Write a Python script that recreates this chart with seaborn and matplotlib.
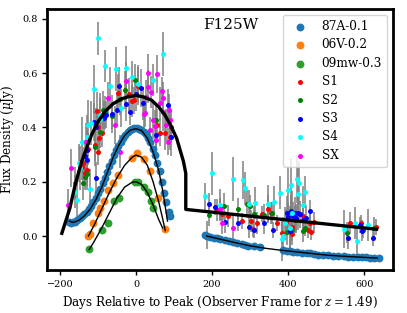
import matplotlib
matplotlib.use("Agg")
import matplotlib.pyplot as plt
import seaborn as sns
import numpy as np

# template light curves (shifted)
sn87a_days = [-175, -170, -165, -160, -154, -148, -142, -136, -130, -124, -118, -112, -106, -100,
              -94, -88, -82, -76, -70, -64, -58, -52, -46, -40, -34, -28, -22, -16, -10, -4,
              2, 8, 14, 20, 26, 32, 38, 44, 50, 56, 62, 68, 74, 80, 86, 90,
              181, 186, 195, 205, 212, 222, 234, 245, 256, 267, 278, 287, 296, 310, 326,
              388, 397, 405, 414, 423, 436, 449, 458, 467, 480, 493, 506, 519, 532, 546,
              559, 572, 583, 594, 605, 616, 627, 638]
sn87a_flux = [0.05, 0.048, 0.05, 0.053, 0.058, 0.065, 0.072, 0.08, 0.09, 0.1, 0.112, 0.125, 0.14, 0.157,
              0.175, 0.195, 0.215, 0.237, 0.258, 0.278, 0.297, 0.316, 0.333, 0.348, 0.362, 0.373, 0.382, 0.389, 0.394, 0.396,
              0.396, 0.394, 0.389, 0.383, 0.375, 0.362, 0.345, 0.322, 0.3, 0.27, 0.24, 0.2, 0.16, 0.125, 0.09, 0.075,
              0.002, 0.0, -0.003, -0.006, -0.008, -0.011, -0.015, -0.019, -0.023, -0.026, -0.03, -0.033, -0.035, -0.038, -0.041,
              -0.053, -0.055, -0.056, -0.058, -0.059, -0.061, -0.063, -0.064, -0.066, -0.068, -0.07, -0.071, -0.073, -0.074, -0.075,
              -0.076, -0.077, -0.078, -0.079, -0.079, -0.08, -0.08, -0.081]

sn06v_days = [-125, -122, -112, -100, -95, -85, -73, -60, -46, -11, 2, 20, 37, 57, 76]
sn06v_flux = [0.0, 0.008, 0.047, 0.085, 0.102, 0.13, 0.169, 0.194, 0.225, 0.286, 0.305, 0.283, 0.239, 0.139, 0.026]

sn09mw_days = [-123, -90, -73, -57, -45, -3, 5, 22, 31, 39, 46]
sn09mw_flux = [-0.049, 0.022, 0.047, 0.129, 0.141, 0.2, 0.2, 0.182, 0.163, 0.129, 0.104]

# fitted curves
fit87a_days = [-175, -165, -150, -135, -120, -105, -90, -75, -60, -45, -30, -15, 0, 15, 30, 45, 60, 70, 78, 83]
fit87a_flux = [0.055, 0.05, 0.058, 0.075, 0.1, 0.135, 0.18, 0.235, 0.29, 0.335, 0.37, 0.39, 0.395, 0.388,
               0.36, 0.31, 0.24, 0.17, 0.1, 0.055]
fit87a_late_days = [186, 220, 260, 300, 340, 380, 420, 460, 500, 540, 580, 620, 635]
fit87a_late_flux = [0.0, -0.011, -0.024, -0.036, -0.045, -0.052, -0.058, -0.064, -0.07, -0.074, -0.077, -0.08, -0.081]
fit06v_days = [-125, -110, -90, -70, -50, -30, -10, 0, 15, 30, 45, 60, 70, 77]
fit06v_flux = [0.0, 0.04, 0.1, 0.16, 0.215, 0.26, 0.29, 0.298, 0.29, 0.26, 0.2, 0.125, 0.065, 0.02]
fit09mw_days = [-123, -110, -90, -70, -50, -30, -10, 0, 15, 30, 45, 60, 70]
fit09mw_flux = [-0.05, -0.02, 0.03, 0.085, 0.14, 0.18, 0.198, 0.2, 0.19, 0.16, 0.115, 0.06, 0.03]

model_days = [-195, -174, -160, -143, -117, -100, -82, -60, -38, -20, 2, 20, 41, 60, 76, 92, 107, 125, 131, 131, 186, 633]
model_flux = [0.01, 0.102, 0.188, 0.274, 0.372, 0.42, 0.458, 0.487, 0.505, 0.513, 0.517, 0.512, 0.5, 0.475,
              0.446, 0.405, 0.36, 0.274, 0.231, 0.098, 0.09, 0.025]

# observed sources
s1_days = [-143, -139, -134, -130, -128, -125, -108, -103, -101, -99, -97, -90, -46, -18, -10, -5, 6,
           56, 63, 76, 89, 91,
           213, 225, 241, 278, 303, 309, 318, 331, 348, 355, 370, 383, 395, 410, 411, 418, 440, 452,
           458, 460, 467, 563, 591, 632]
s1_flux = [0.255, 0.268, 0.231, 0.243, 0.317, 0.32, 0.335, 0.46, 0.311, 0.403, 0.36, 0.378, 0.525, 0.522,
           0.497, 0.5, 0.553, 0.409, 0.38, 0.378, 0.366, 0.403,
           0.095, 0.08, 0.074, 0.056, 0.056, 0.025, 0.047, 0.081, 0.1, 0.086, 0.047, 0.01, 0.05, 0.007,
           0.032, 0.06, 0.075, 0.022, 0.047, 0.016, 0.05, 0.047, 0.049, 0.033]
s1_err = [0.05, 0.06, 0.05, 0.06, 0.07, 0.06, 0.06, 0.07, 0.05, 0.06, 0.06, 0.05, 0.07, 0.06, 0.06, 0.05,
          0.07, 0.06, 0.05, 0.06, 0.05, 0.06,
          0.04, 0.03, 0.04, 0.03, 0.04, 0.03, 0.04, 0.03, 0.05, 0.04, 0.03, 0.04, 0.05, 0.04, 0.03, 0.05,
          0.04, 0.03, 0.04, 0.03, 0.04, 0.04, 0.03, 0.03]

s2_days = [-139, -134, -130, -108, -95, -86, -82, -62, -42, -29, -3, 54,
           192, 232, 269, 291, 300, 311, 338, 359, 397, 410, 420, 440, 445, 556, 597, 625]
s2_flux = [0.194, 0.218, 0.23, 0.329, 0.384, 0.464, 0.455, 0.443, 0.505, 0.538, 0.575, 0.427,
           0.077, 0.11, 0.1, 0.118, 0.112, 0.081, 0.077, 0.084, 0.016, 0.022, 0.06, 0.018, 0.03, 0.013,
           0.022, 0.03]
s2_err = [0.06, 0.05, 0.06, 0.07, 0.06, 0.07, 0.06, 0.05, 0.06, 0.07, 0.06, 0.05,
          0.04, 0.05, 0.04, 0.05, 0.04, 0.03, 0.04, 0.04, 0.05, 0.04, 0.05, 0.04, 0.03, 0.04, 0.03, 0.04]

s3_days = [-134, -130, -128, -110, -106, -105, -83, -79, -64, -51, -44, -26, -16, 0, 13, 19, 54, 85, 92,
           193, 208, 234, 269, 298, 311, 338, 360, 398, 401, 405, 408, 412, 418, 422, 427, 432, 440,
           447, 458, 559, 588, 594, 623]
s3_flux = [0.295, 0.28, 0.317, 0.421, 0.212, 0.403, 0.436, 0.446, 0.448, 0.464, 0.553, 0.485, 0.458,
           0.522, 0.546, 0.489, 0.372, 0.482, 0.366,
           0.117, 0.106, 0.053, 0.049, 0.032, 0.024, 0.048, 0.022, 0.086, 0.07, 0.02, 0.092, 0.075,
           0.085, 0.068, 0.083, 0.08, 0.059, 0.065, 0.093, -0.006, 0.04, 0.02, -0.006]
s3_err = [0.06, 0.05, 0.06, 0.07, 0.06, 0.07, 0.06, 0.05, 0.07, 0.06, 0.07, 0.06, 0.05, 0.06, 0.07,
          0.06, 0.05, 0.06, 0.07,
          0.04, 0.03, 0.04, 0.03, 0.04, 0.03, 0.04, 0.03, 0.06, 0.05, 0.07, 0.06, 0.05, 0.06, 0.05,
          0.06, 0.05, 0.04, 0.05, 0.04, 0.04, 0.03, 0.04, 0.03]

s4_days = [-160, -156, -150, -147, -143, -128, -125, -121, -119, -110, -99, -95, -94, -82, -67, -53,
           -39, -27, -11, 5, 44, 72,
           182, 199, 221, 256, 282, 287, 298, 313, 348, 363, 379, 384, 386, 392, 401, 405, 407, 410,
           423, 425, 430, 439, 445, 546, 576, 582, 611]
s4_flux = [0.163, 0.133, 0.268, 0.25, 0.347, 0.366, 0.409, 0.175, 0.416, 0.541, 0.728, 0.446, 0.43,
           0.626, 0.554, 0.615, 0.47, 0.62, 0.584, 0.559, 0.575, 0.67,
           0.146, 0.231, 0.114, 0.21, 0.206, 0.176, 0.118, 0.121, 0.117, 0.126, 0.16, -0.012, 0.0,
           0.047, 0.169, 0.03, 0.188, 0.084, 0.21, 0.153, 0.195, 0.114, 0.162, 0.025, 0.048, -0.02, 0.04]
s4_err = [0.06, 0.07, 0.07, 0.08, 0.09, 0.08, 0.09, 0.07, 0.08, 0.09, 0.06, 0.08, 0.08, 0.06, 0.07,
          0.08, 0.07, 0.08, 0.06, 0.07, 0.06, 0.08,
          0.05, 0.08, 0.06, 0.08, 0.07, 0.06, 0.05, 0.06, 0.07, 0.06, 0.06, 0.08, 0.07, 0.06, 0.09,
          0.08, 0.1, 0.08, 0.09, 0.1, 0.08, 0.07, 0.06, 0.07, 0.06, 0.05, 0.06]

sx_days = [-178, -172, -160, -132, -74, -55, -42, -27, 22, 24, 26, 32, 32, 37, 40, 46, 50, 54, 56,
           63, 68, 72, 72, 79, 83, 88, 90,
           186, 221, 225, 256]
sx_flux = [0.114, 0.249, 0.194, 0.347, 0.507, 0.41, 0.311, 0.572, 0.448, 0.452, 0.513, 0.602, 0.55,
           0.39, 0.53, 0.427, 0.405, 0.354, 0.597, 0.489, 0.534, 0.507, 0.458, 0.409, 0.347, 0.464, 0.427,
           0.004, 0.1, 0.047, 0.03]
sx_err = [0.06, 0.07, 0.06, 0.07, 0.06, 0.07, 0.06, 0.07, 0.06, 0.05, 0.06, 0.07, 0.06, 0.05, 0.06,
          0.07, 0.06, 0.05, 0.07, 0.06, 0.05, 0.06, 0.07, 0.06, 0.05, 0.06, 0.05,
          0.05, 0.04, 0.04, 0.05]

plt.rcParams['font.family'] = ['DejaVu Serif']
plt.rcParams['mathtext.fontset'] = 'dejavuserif'

fig = plt.figure(figsize=(4.07, 3.13), dpi=100)
ax = fig.add_axes([0.1155, 0.1374, 0.85, 0.834])

# templates first so the legend order matches
sns.scatterplot(x=sn87a_days, y=sn87a_flux, color='tab:blue', s=32, linewidth=0, zorder=4,
                label='87A-0.1', ax=ax)
sns.scatterplot(x=sn06v_days, y=sn06v_flux, color='tab:orange', s=32, linewidth=0, zorder=4,
                label='06V-0.2', ax=ax)
sns.scatterplot(x=sn09mw_days, y=sn09mw_flux, color='tab:green', s=32, linewidth=0, zorder=4,
                label='09mw-0.3', ax=ax)

sources = [
    (s1_days, s1_flux, s1_err, 'red', 'S1'),
    (s2_days, s2_flux, s2_err, 'green', 'S2'),
    (s3_days, s3_flux, s3_err, 'blue', 'S3'),
    (s4_days, s4_flux, s4_err, 'cyan', 'S4'),
    (sx_days, sx_flux, sx_err, 'magenta', 'SX'),
]
for days, flux, err, col, lab in sources:
    ax.errorbar(days, flux, yerr=err, fmt='none', ecolor='gray', elinewidth=1.1, zorder=1)
for days, flux, err, col, lab in sources:
    sns.scatterplot(x=days, y=flux, color=col, s=13, linewidth=0, zorder=2, label=lab, ax=ax)

for d, f in [(fit87a_days, fit87a_flux), (fit87a_late_days, fit87a_late_flux),
             (fit06v_days, fit06v_flux), (fit09mw_days, fit09mw_flux)]:
    sns.lineplot(x=d, y=f, color='black', linewidth=1.0, sort=False, estimator=None, zorder=5, ax=ax)
sns.lineplot(x=model_days, y=model_flux, color='black', linewidth=2.4, sort=False, estimator=None,
             zorder=6, ax=ax)

ax.text(0.53, 0.94, 'F125W', transform=ax.transAxes, fontsize=11, ha='center', va='center')

ax.set_xlim(-234, 676)
ax.set_ylim(-0.125, 0.836)
ax.set_xticks([-200, 0, 200, 400, 600])
ax.set_yticks([0.0, 0.2, 0.4, 0.6, 0.8])
ax.tick_params(labelsize=7, width=1, length=3.5)
ax.set_xlabel('Days Relative to Peak (Observer Frame for $z = 1.49$)', fontsize=8.6)
ax.set_ylabel(r'Flux Density ($\mu$Jy)', fontsize=8.6)
for sp in ax.spines.values():
    sp.set_linewidth(2)

ax.legend(loc='upper right', fontsize=8.7, labelspacing=0.45, handletextpad=0.8, borderaxespad=0.5)

fig.savefig('out.png', dpi=100)
